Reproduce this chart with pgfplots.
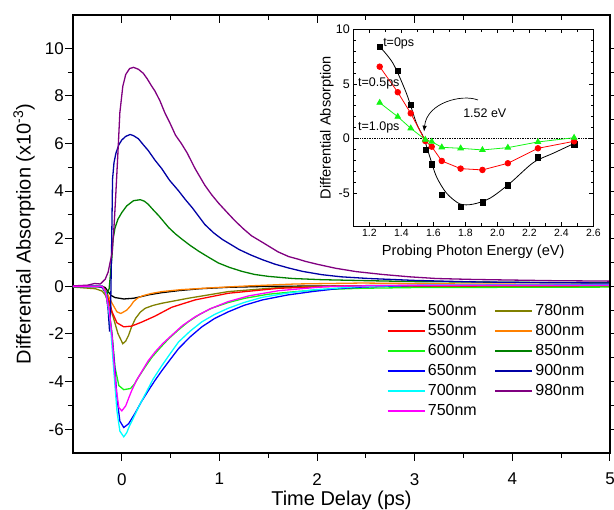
\documentclass[border=0pt]{standalone}
\usepackage{fontspec}
\setmainfont{Liberation Sans}
\usepackage{pgfplots}
\pgfplotsset{compat=1.18}
\usetikzlibrary{arrows.meta}

\definecolor{c500}{RGB}{0,0,0}
\definecolor{c550}{RGB}{255,0,0}
\definecolor{c600}{RGB}{20,245,20}
\definecolor{c650}{RGB}{0,0,255}
\definecolor{c700}{RGB}{0,255,255}
\definecolor{c750}{RGB}{255,0,255}
\definecolor{c780}{RGB}{128,128,0}
\definecolor{c800}{RGB}{255,128,0}
\definecolor{c850}{RGB}{0,128,0}
\definecolor{c900}{RGB}{0,0,165}
\definecolor{c980}{RGB}{128,0,128}

\begin{document}
\begin{tikzpicture}
\useasboundingbox (-73pt,-57pt) rectangle (541pt,453pt);

% main panel
\begin{axis}[
    at={(0pt,0pt)}, anchor=south west,
    scale only axis, width=537pt, height=438pt,
    xmin=-0.5, xmax=5, ymin=-7, ymax=11.4,
    xtick={0,1,2,3,4,5}, ytick={-6,-4,...,10},
    minor x tick num=1, minor y tick num=1,
    xtick pos=left, ytick pos=left,
    tick align=outside,
    major tick length=8pt, minor tick length=5pt,
    tick style={black, line width=1pt},
    axis line style={line width=1.3pt},
    ticklabel style={font=\fontsize{17}{17}\selectfont, inner sep=1pt},
    xticklabel style={yshift=-11pt},
    /pgf/number format/assume math mode=true,
    xlabel={Time Delay (ps)},
    ylabel={Differential Absorption (x10\textsuperscript{-3})},
    label style={font=\fontsize{20}{20}\selectfont},
    xlabel style={at={(axis description cs:0.5,-0.107)}, anchor=center},
    ylabel style={at={(axis description cs:-0.0912,0.5)}, anchor=center},
    every axis plot/.append style={line width=1.3pt},
    legend columns=2,
    legend style={at={(0.584,0.347)}, anchor=north west, draw=none, fill=none,
        inner sep=0pt, font=\fontsize{16}{16}\selectfont,
        nodes={inner sep=2.5pt, text height=12pt, text depth=3pt},
        /tikz/every even column/.append style={column sep=15pt}},
    legend cell align=left,
    legend image code/.code={\draw[#1, line width=1.6pt] (0pt,0pt) -- (37pt,0pt);},
]
\addplot[c500] coordinates {(-0.5,0)(-0.2,0)(-0.17,-0.05)(-0.14,-0.22)(-0.11,-0.38)(-0.07,-0.47)(0.02,-0.53)(0.12,-0.5)(0.2,-0.43)(0.27,-0.36)(0.4,-0.27)(0.58,-0.18)(0.8,-0.1)(1.09,-0.04)(1.5,0.0)(2.5,0.03)(5.0,0.03)};
\addlegendentry{500nm}
\addplot[c780] coordinates {(-0.5,-0.03)(-0.27,-0.1)(-0.2,-0.2)(-0.17,-0.36)(-0.13,-0.7)(-0.10,-1.12)(-0.04,-1.98)(0.01,-2.41)(0.04,-2.3)(0.07,-2.05)(0.1,-1.7)(0.14,-1.35)(0.19,-1.08)(0.24,-0.92)(0.32,-0.8)(0.41,-0.71)(0.68,-0.5)(1.09,-0.22)(1.61,-0.05)(2.2,0.02)(5,0.0)};
\addlegendentry{780nm}
\addplot[c550] coordinates {(-0.5,0)(-0.2,0)(-0.17,-0.15)(-0.13,-0.6)(-0.10,-1.07)(-0.05,-1.53)(0.02,-1.7)(0.10,-1.67)(0.21,-1.49)(0.34,-1.25)(0.51,-0.88)(0.75,-0.57)(1.09,-0.29)(1.61,-0.08)(2.2,0.0)(3,0.02)(5,0.02)};
\addlegendentry{550nm}
\addplot[c800] coordinates {(-0.5,0)(-0.3,0.02)(-0.19,-0.05)(-0.15,-0.3)(-0.10,-0.71)(-0.05,-1.07)(-0.01,-1.14)(0.05,-1.0)(0.09,-0.82)(0.12,-0.64)(0.16,-0.5)(0.21,-0.4)(0.3,-0.3)(0.41,-0.22)(0.6,-0.14)(0.92,-0.06)(1.3,0.02)(1.78,0.1)(2.46,0.14)(3.5,0.1)(5.0,0.08)};
\addlegendentry{800nm}
\addplot[c600] coordinates {(-0.5,0)(-0.2,0)(-0.17,-0.25)(-0.13,-1.0)(-0.10,-1.98)(-0.07,-3.4)(-0.03,-4.17)(0.02,-4.34)(0.09,-4.29)(0.13,-4.1)(0.17,-3.82)(0.24,-3.38)(0.31,-2.97)(0.40,-2.55)(0.48,-2.2)(0.58,-1.83)(0.68,-1.49)(0.80,-1.17)(0.92,-0.92)(1.09,-0.68)(1.26,-0.5)(1.5,-0.33)(1.78,-0.22)(2.1,-0.13)(2.46,-0.08)(3.0,-0.05)(5.0,-0.03)};
\addlegendentry{600nm}
\addplot[c850] coordinates {(-0.5,0)(-0.25,0)(-0.2,-0.05)(-0.17,-0.2)(-0.15,-0.3)(-0.13,-0.1)(-0.12,0.35)(-0.10,1.3)(-0.09,1.97)(-0.07,2.45)(-0.04,2.82)(0.0,3.1)(0.05,3.38)(0.12,3.6)(0.19,3.64)(0.23,3.58)(0.27,3.45)(0.32,3.22)(0.38,2.96)(0.48,2.47)(0.55,2.2)(0.62,1.97)(0.70,1.72)(0.79,1.47)(0.89,1.22)(0.99,0.98)(1.1,0.8)(1.23,0.63)(1.36,0.5)(1.50,0.42)(1.75,0.33)(2.05,0.28)(2.5,0.24)(3.0,0.2)(4.0,0.17)(5.0,0.15)};
\addlegendentry{850nm}
\addplot[c650] coordinates {(-0.5,0)(-0.2,0)(-0.16,-0.3)(-0.13,-1.0)(-0.10,-2.1)(-0.07,-3.5)(-0.05,-4.66)(-0.02,-5.66)(0.02,-5.93)(0.07,-5.77)(0.14,-5.3)(0.2,-4.85)(0.27,-4.39)(0.34,-3.95)(0.41,-3.54)(0.5,-3.05)(0.58,-2.62)(0.7,-2.12)(0.82,-1.7)(0.95,-1.35)(1.09,-1.07)(1.25,-0.8)(1.44,-0.57)(1.7,-0.36)(1.95,-0.22)(2.2,-0.1)(2.46,-0.03)(3,0.04)(5,0.07)};
\addlegendentry{650nm}
\addplot[c900] coordinates {(-0.5,0)(-0.25,0)(-0.2,-0.05)(-0.16,-0.3)(-0.14,-1.0)(-0.125,-1.9)(-0.115,-1.0)(-0.105,1.5)(-0.095,4.5)(-0.08,5.2)(-0.06,5.6)(-0.03,5.95)(0.0,6.15)(0.04,6.3)(0.085,6.38)(0.12,6.33)(0.17,6.2)(0.22,5.95)(0.27,5.71)(0.34,5.3)(0.41,4.94)(0.49,4.45)(0.58,4.02)(0.65,3.65)(0.72,3.31)(0.85,2.6)(0.94,2.25)(1.03,1.97)(1.12,1.75)(1.20,1.55)(1.32,1.32)(1.44,1.12)(1.57,0.93)(1.71,0.77)(1.85,0.63)(2.05,0.49)(2.25,0.4)(2.53,0.33)(3.0,0.25)(3.57,0.19)(4.2,0.16)(5.0,0.14)};
\addlegendentry{900nm}
\addplot[c700] coordinates {(-0.5,0)(-0.2,0)(-0.16,-0.3)(-0.12,-1.42)(-0.09,-3.11)(-0.05,-5.23)(-0.02,-6.08)(0.02,-6.32)(0.05,-6.15)(0.08,-5.85)(0.12,-5.52)(0.18,-5.0)(0.24,-4.53)(0.32,-3.9)(0.41,-3.33)(0.5,-2.8)(0.58,-2.34)(0.7,-1.88)(0.82,-1.49)(0.95,-1.18)(1.09,-0.92)(1.25,-0.68)(1.44,-0.46)(1.7,-0.28)(1.95,-0.15)(2.46,0.0)(3.2,0.06)(5,0.06)};
\addlegendentry{700nm}
\addplot[c980] coordinates {(-0.5,0.02)(-0.35,0.05)(-0.28,0.12)(-0.22,0.1)(-0.17,0.3)(-0.14,0.6)(-0.10,1.4)(-0.08,2.5)(-0.065,3.6)(-0.04,5.6)(-0.02,7.3)(0.01,8.4)(0.04,8.9)(0.08,9.15)(0.12,9.2)(0.17,9.12)(0.22,8.95)(0.26,8.72)(0.30,8.45)(0.34,8.2)(0.39,7.8)(0.44,7.3)(0.50,6.8)(0.55,6.35)(0.61,6.0)(0.67,5.6)(0.75,4.95)(0.85,4.25)(0.92,3.85)(0.99,3.5)(1.08,3.1)(1.16,2.75)(1.25,2.4)(1.33,2.12)(1.42,1.9)(1.50,1.7)(1.60,1.45)(1.71,1.25)(1.80,1.15)(1.88,1.05)(2.0,0.93)(2.19,0.76)(2.4,0.62)(2.67,0.5)(2.95,0.4)(3.22,0.33)(3.6,0.29)(3.91,0.27)(4.4,0.24)(5.0,0.22)};
\addlegendentry{980nm}
\addplot[c750] coordinates {(-0.5,0)(-0.2,0)(-0.17,-0.2)(-0.13,-1.0)(-0.10,-2.1)(-0.08,-3.2)(-0.06,-4.25)(-0.03,-5.09)(0.0,-5.23)(0.04,-5.02)(0.07,-4.7)(0.10,-4.39)(0.15,-3.95)(0.21,-3.54)(0.27,-3.13)(0.34,-2.76)(0.42,-2.4)(0.51,-2.06)(0.62,-1.65)(0.75,-1.28)(0.9,-0.95)(1.09,-0.64)(1.3,-0.4)(1.61,-0.18)(2.12,0.0)(3,0.05)(5,0.05)};
\addlegendentry{750nm}
\end{axis}

% top ticks (inside)
\begin{axis}[
    at={(0pt,0pt)}, anchor=south west,
    scale only axis, width=537pt, height=438pt,
    xmin=-0.5, xmax=5, ymin=-7, ymax=11.4,
    axis x line*=top, hide y axis,
    xtick={0,1,2,3,4,5}, minor x tick num=1, xticklabels={},
    tick align=inside,
    major tick length=8pt, minor tick length=5pt,
    tick style={black, line width=1pt},
    axis line style={line width=1.3pt},
]
\end{axis}
% right ticks (outside)
\begin{axis}[
    at={(0pt,0pt)}, anchor=south west,
    scale only axis, width=537pt, height=438pt,
    xmin=-0.5, xmax=5, ymin=-7, ymax=11.4,
    axis y line*=right, hide x axis,
    ytick={-6,-4,...,10}, minor y tick num=1, yticklabels={},
    tick align=outside,
    major tick length=8pt, minor tick length=5pt,
    tick style={black, line width=1pt},
    axis line style={line width=1.3pt},
]
\end{axis}

% inset
\begin{axis}[
    at={(280.3pt,227pt)}, anchor=south west,
    scale only axis, width=240pt, height=196.7pt,
    xmin=1.1, xmax=2.6, ymin=-8, ymax=10,
    xtick={1.2,1.4,...,2.6}, ytick={-5,0,5,10},
    minor x tick num=1, minor y tick num=4,
    tick align=inside,
    major tick length=4pt, minor tick length=2.5pt,
    tick style={black, line width=0.7pt},
    axis line style={line width=0.9pt},
    /pgf/number format/assume math mode=true,
    xticklabel style={font=\fontsize{10.5}{10.5}\selectfont,
        /pgf/number format/.cd, fixed, fixed zerofill, precision=1},
    yticklabel style={font=\fontsize{12.5}{12.5}\selectfont},
    xlabel={Probing Photon Energy (eV)},
    ylabel={Differential Absorption},
    label style={font=\fontsize{14.6}{14.6}\selectfont},
    xlabel style={at={(axis description cs:0.5,-0.132)}, anchor=center},
    ylabel style={at={(axis description cs:-0.11,0.5)}, anchor=center},
    clip=false,
]
\addplot[black, densely dotted, line width=0.7pt] coordinates {(1.1,0)(2.6,0)};
% t = 0 ps fit and data
\addplot[black, line width=0.8pt, smooth] coordinates {(1.265,8.41)(1.348,6.89)(1.432,4.14)(1.495,1.4)(1.54,0.08)(1.578,-1.66)(1.62,-3.49)(1.683,-5.0)(1.766,-5.98)(1.849,-6.0)(1.954,-5.46)(2.079,-4.09)(2.225,-2.2)(2.35,-1.34)(2.48,-0.45)};
\addplot[only marks, black, mark=square*, mark size=2.6pt] coordinates {(1.265,8.41)(1.378,6.21)(1.459,3.07)(1.550,-1.04)(1.590,-2.35)(1.653,-5.10)(1.771,-6.23)(1.907,-5.83)(2.066,-4.27)(2.254,-1.71)(2.480,-0.52)};
% t = 0.5 ps
\addplot[red, line width=0.8pt, mark=*, mark size=2.8pt] coordinates {(1.265,6.58)(1.378,4.24)(1.459,2.31)(1.550,-0.22)(1.590,-0.74)(1.653,-2.05)(1.771,-2.75)(1.907,-2.87)(2.066,-2.26)(2.254,-0.89)(2.480,-0.25)};
% t = 1.0 ps
\addplot[c600, line width=0.8pt, mark=triangle*, mark size=3.2pt] coordinates {(1.265,3.28)(1.378,2.0)(1.459,0.94)(1.550,-0.1)(1.590,-0.28)(1.653,-0.8)(1.771,-0.89)(1.907,-1.04)(2.066,-0.83)(2.254,-0.31)(2.480,0.08)};
\node[anchor=west, font=\fontsize{12.5}{12.5}\selectfont, inner sep=0pt] at (axis cs:1.286,8.72) {t=0ps};
\node[anchor=west, font=\fontsize{12.5}{12.5}\selectfont, inner sep=0pt] at (axis cs:1.129,5.06) {t=0.5ps};
\node[anchor=west, font=\fontsize{12.5}{12.5}\selectfont, inner sep=0pt] at (axis cs:1.129,1.03) {t=1.0ps};
\node[anchor=west, font=\fontsize{12.5}{12.5}\selectfont, inner sep=0pt] at (axis cs:1.786,2.31) {1.52 eV};
\draw[black, line width=0.7pt, -{Latex[length=6pt,width=4.5pt]}] (axis cs:1.879,3.53) .. controls (axis cs:1.78,4.1) and (axis cs:1.56,3.3) .. (axis cs:1.542,0.63);
\end{axis}
\end{tikzpicture}
\end{document}
